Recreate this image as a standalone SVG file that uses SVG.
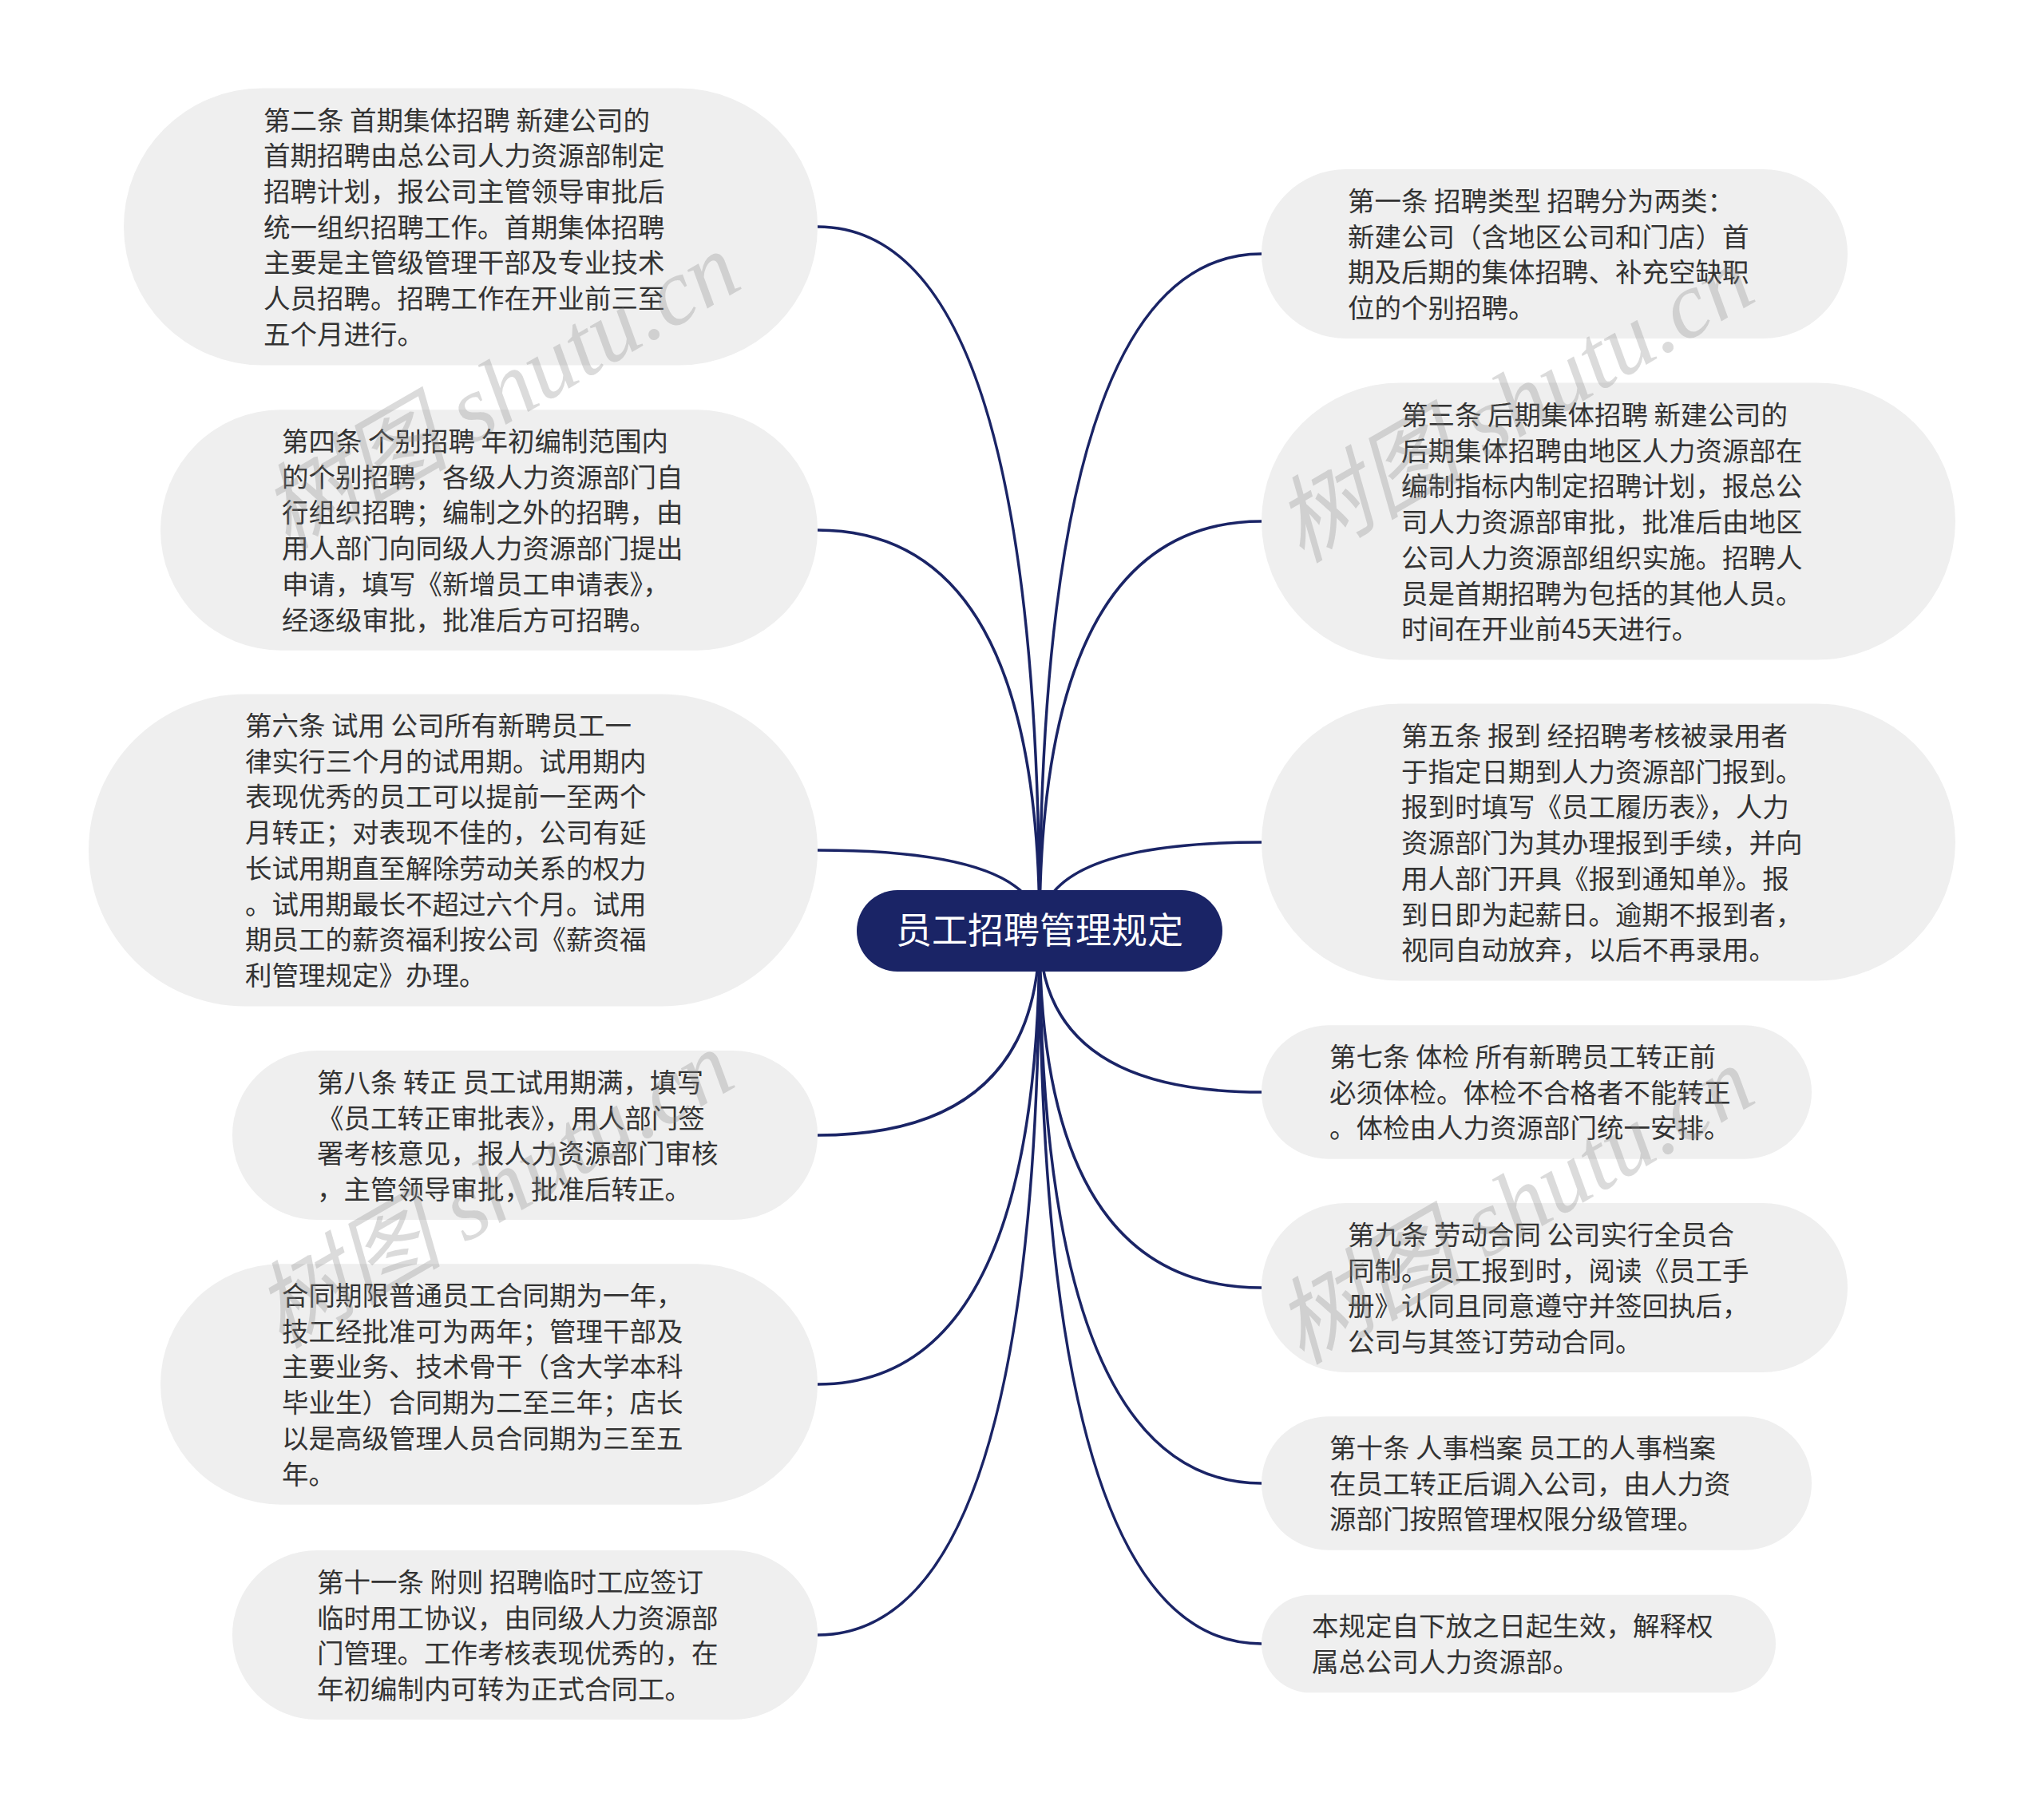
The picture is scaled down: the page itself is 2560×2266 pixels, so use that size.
<svg xmlns="http://www.w3.org/2000/svg" width="2560" height="2266" viewBox="0 0 2560 2266">
<style>
.node rect{fill:#efefef;}
.node text{font-family:"Noto Sans CJK SC","Noto Sans",sans-serif;font-size:33.5px;fill:#333333;}
.conn path{fill:none;stroke:#1a2466;stroke-width:3.5;}
.root rect{fill:#1a2466;}
.root text{font-family:"Noto Sans CJK SC","Noto Sans",sans-serif;font-size:45px;fill:#ffffff;text-anchor:middle;}
.wm text{font-family:"Liberation Serif","Noto Sans CJK SC",serif;font-style:italic;font-size:118px;fill:#888888;fill-opacity:0.3;}
</style>
<rect width="2560" height="2266" fill="#ffffff"/>
<g class="conn">
<path d="M1302 1166 Q1302 284 1024 284"/>
<path d="M1302 1166 Q1302 664 1024 664"/>
<path d="M1302 1166 Q1302 1065 1024 1065"/>
<path d="M1302 1166 Q1302 1422 1024 1422"/>
<path d="M1302 1166 Q1302 1734 1024 1734"/>
<path d="M1302 1166 Q1302 2048 1024 2048"/>
<path d="M1302 1166 Q1302 318 1580 318"/>
<path d="M1302 1166 Q1302 653 1580 653"/>
<path d="M1302 1166 Q1302 1055 1580 1055"/>
<path d="M1302 1166 Q1302 1368 1580 1368"/>
<path d="M1302 1166 Q1302 1613 1580 1613"/>
<path d="M1302 1166 Q1302 1858 1580 1858"/>
<path d="M1302 1166 Q1302 2059 1580 2059"/>
</g>
<g id="root" class="root">
<rect x="1073" y="1115" width="458" height="102" rx="51"/>
<text x="1302" y="1182">员工招聘管理规定</text>
</g>
<g id="n2" class="node">
<rect x="155" y="110.5" width="869" height="347" rx="173.5"/>
<text x="330" y="162.6"><tspan x="330">第二条 首期集体招聘 新建公司的</tspan><tspan x="330" dy="44.7">首期招聘由总公司人力资源部制定</tspan><tspan x="330" dy="44.7">招聘计划，报公司主管领导审批后</tspan><tspan x="330" dy="44.7">统一组织招聘工作。首期集体招聘</tspan><tspan x="330" dy="44.7">主要是主管级管理干部及专业技术</tspan><tspan x="330" dy="44.7">人员招聘。招聘工作在开业前三至</tspan><tspan x="330" dy="44.7">五个月进行。</tspan></text>
</g>
<g id="n4" class="node">
<rect x="201" y="513.25" width="823" height="301.5" rx="150.75"/>
<text x="353" y="565"><tspan x="353">第四条 个别招聘 年初编制范围内</tspan><tspan x="353" dy="44.7">的个别招聘，各级人力资源部门自</tspan><tspan x="353" dy="44.7">行组织招聘；编制之外的招聘，由</tspan><tspan x="353" dy="44.7">用人部门向同级人力资源部门提出</tspan><tspan x="353" dy="44.7">申请，填写《新增员工申请表》，</tspan><tspan x="353" dy="44.7">经逐级审批，批准后方可招聘。</tspan></text>
</g>
<g id="n6" class="node">
<rect x="111" y="869.5" width="913" height="391" rx="195.5"/>
<text x="307" y="921"><tspan x="307">第六条 试用 公司所有新聘员工一</tspan><tspan x="307" dy="44.7">律实行三个月的试用期。试用期内</tspan><tspan x="307" dy="44.7">表现优秀的员工可以提前一至两个</tspan><tspan x="307" dy="44.7">月转正；对表现不佳的，公司有延</tspan><tspan x="307" dy="44.7">长试用期直至解除劳动关系的权力</tspan><tspan x="307" dy="44.7">。试用期最长不超过六个月。试用</tspan><tspan x="307" dy="44.7">期员工的薪资福利按公司《薪资福</tspan><tspan x="307" dy="44.7">利管理规定》办理。</tspan></text>
</g>
<g id="n8" class="node">
<rect x="291" y="1316" width="733" height="212" rx="106"/>
<text x="397" y="1368"><tspan x="397">第八条 转正 员工试用期满，填写</tspan><tspan x="397" dy="44.7">《员工转正审批表》，用人部门签</tspan><tspan x="397" dy="44.7">署考核意见，报人力资源部门审核</tspan><tspan x="397" dy="44.7">，主管领导审批，批准后转正。</tspan></text>
</g>
<g id="nht" class="node">
<rect x="201" y="1583.25" width="823" height="301.5" rx="150.75"/>
<text x="353" y="1635"><tspan x="353">合同期限普通员工合同期为一年，</tspan><tspan x="353" dy="44.7">技工经批准可为两年；管理干部及</tspan><tspan x="353" dy="44.7">主要业务、技术骨干（含大学本科</tspan><tspan x="353" dy="44.7">毕业生）合同期为二至三年；店长</tspan><tspan x="353" dy="44.7">以是高级管理人员合同期为三至五</tspan><tspan x="353" dy="44.7">年。</tspan></text>
</g>
<g id="n11" class="node">
<rect x="291" y="1942" width="733" height="212" rx="106"/>
<text x="397" y="1994"><tspan x="397">第十一条 附则 招聘临时工应签订</tspan><tspan x="397" dy="44.7">临时用工协议，由同级人力资源部</tspan><tspan x="397" dy="44.7">门管理。工作考核表现优秀的，在</tspan><tspan x="397" dy="44.7">年初编制内可转为正式合同工。</tspan></text>
</g>
<g id="n1" class="node">
<rect x="1580" y="212" width="734" height="212" rx="106"/>
<text x="1688" y="264"><tspan x="1688">第一条 招聘类型 招聘分为两类：</tspan><tspan x="1688" dy="44.7">新建公司（含地区公司和门店）首</tspan><tspan x="1688" dy="44.7">期及后期的集体招聘、补充空缺职</tspan><tspan x="1688" dy="44.7">位的个别招聘。</tspan></text>
</g>
<g id="n3" class="node">
<rect x="1580" y="479.5" width="869" height="347" rx="173.5"/>
<text x="1755" y="532"><tspan x="1755">第三条 后期集体招聘 新建公司的</tspan><tspan x="1755" dy="44.7">后期集体招聘由地区人力资源部在</tspan><tspan x="1755" dy="44.7">编制指标内制定招聘计划，报总公</tspan><tspan x="1755" dy="44.7">司人力资源部审批，批准后由地区</tspan><tspan x="1755" dy="44.7">公司人力资源部组织实施。招聘人</tspan><tspan x="1755" dy="44.7">员是首期招聘为包括的其他人员。</tspan><tspan x="1755" dy="44.7">时间在开业前45天进行。</tspan></text>
</g>
<g id="n5" class="node">
<rect x="1580" y="881.5" width="869" height="347" rx="173.5"/>
<text x="1755" y="934"><tspan x="1755">第五条 报到 经招聘考核被录用者</tspan><tspan x="1755" dy="44.7">于指定日期到人力资源部门报到。</tspan><tspan x="1755" dy="44.7">报到时填写《员工履历表》，人力</tspan><tspan x="1755" dy="44.7">资源部门为其办理报到手续，并向</tspan><tspan x="1755" dy="44.7">用人部门开具《报到通知单》。报</tspan><tspan x="1755" dy="44.7">到日即为起薪日。逾期不报到者，</tspan><tspan x="1755" dy="44.7">视同自动放弃，以后不再录用。</tspan></text>
</g>
<g id="n7" class="node">
<rect x="1580" y="1284.3" width="689" height="167.4" rx="83.7"/>
<text x="1665" y="1336"><tspan x="1665">第七条 体检 所有新聘员工转正前</tspan><tspan x="1665" dy="44.7">必须体检。体检不合格者不能转正</tspan><tspan x="1665" dy="44.7">。体检由人力资源部门统一安排。</tspan></text>
</g>
<g id="n9" class="node">
<rect x="1580" y="1507" width="734" height="212" rx="106"/>
<text x="1688" y="1559"><tspan x="1688">第九条 劳动合同 公司实行全员合</tspan><tspan x="1688" dy="44.7">同制。员工报到时，阅读《员工手</tspan><tspan x="1688" dy="44.7">册》认同且同意遵守并签回执后，</tspan><tspan x="1688" dy="44.7">公司与其签订劳动合同。</tspan></text>
</g>
<g id="n10" class="node">
<rect x="1580" y="1774.3" width="689" height="167.4" rx="83.7"/>
<text x="1665" y="1826"><tspan x="1665">第十条 人事档案 员工的人事档案</tspan><tspan x="1665" dy="44.7">在员工转正后调入公司，由人力资</tspan><tspan x="1665" dy="44.7">源部门按照管理权限分级管理。</tspan></text>
</g>
<g id="nend" class="node">
<rect x="1580" y="1997.65" width="644" height="122.7" rx="61.35"/>
<text x="1643" y="2049"><tspan x="1643">本规定自下放之日起生效，解释权</tspan><tspan x="1643" dy="44.7">属总公司人力资源部。</tspan></text>
</g>
<g class="wm">
<text transform="translate(360 690) rotate(-30)">树图 shutu.cn</text>
<text transform="translate(1630 706) rotate(-30)">树图 shutu.cn</text>
<text transform="translate(352 1690) rotate(-30)">树图 shutu.cn</text>
<text transform="translate(1630 1710) rotate(-30)">树图 shutu.cn</text>
</g>
</svg>
